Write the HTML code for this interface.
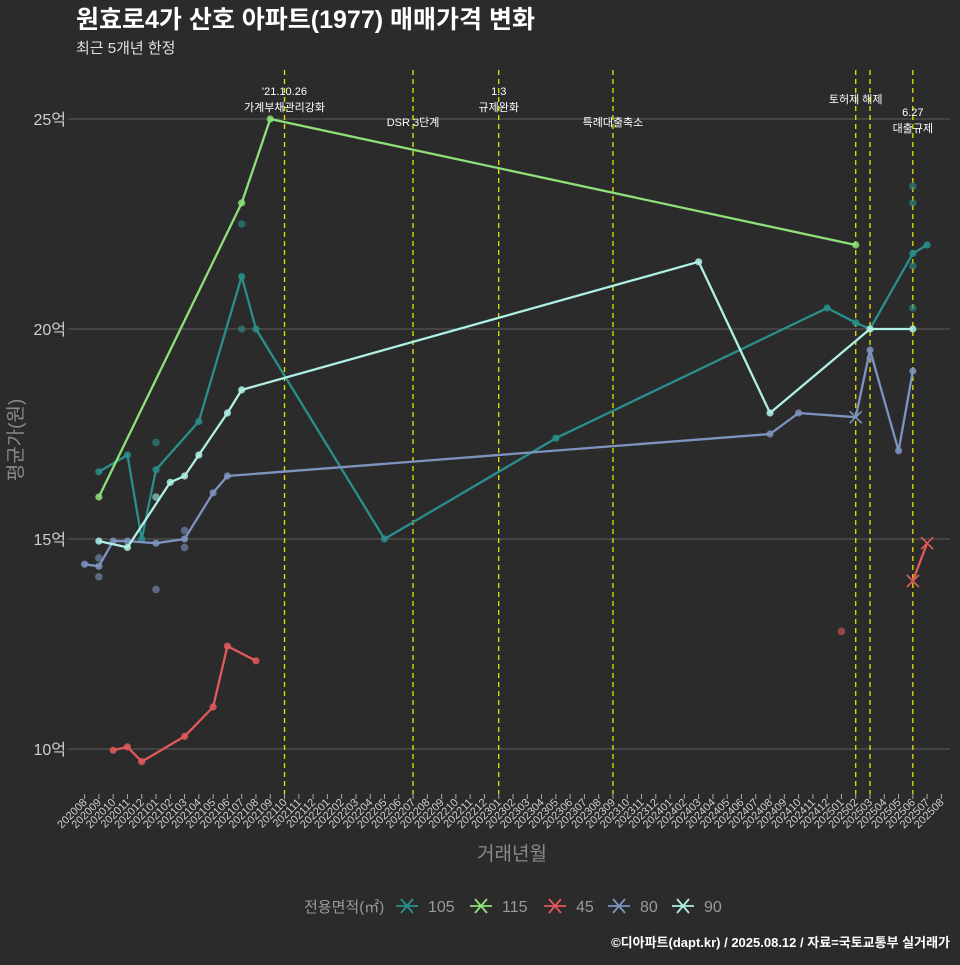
<!DOCTYPE html>
<html><head><meta charset="utf-8">
<style>
body{margin:0;background:#2b2b2b;}
svg text{font-family:"Liberation Sans","Noto Sans CJK KR",sans-serif;}
</style></head>
<body>
<svg id="chart" width="960" height="960" xmlns="http://www.w3.org/2000/svg">
<rect width="960" height="960" fill="#2b2b2b"/>
<text x="76" y="28" fill="#ffffff" font-size="25" font-weight="bold">원효로4가 산호 아파트(1977) 매매가격 변화</text>
<text x="76" y="53" fill="#e0e0e0" font-size="15">최근 5개년 한정</text>
<g id="grid"></g><g id="events"></g><g id="series"></g><g id="xaxis"></g>
<text transform="translate(22,440) rotate(-90)" text-anchor="middle" fill="#8a8a8a" font-size="19">평균가(원)</text>
<text x="512" y="860" text-anchor="middle" fill="#8a8a8a" font-size="19">거래년월</text>
<g id="legend"></g>
<text x="950" y="947" text-anchor="end" fill="#ffffff" font-size="13" font-weight="bold">©디아파트(dapt.kr) / 2025.08.12 / 자료=국토교통부 실거래가</text>
</svg>
<script>
const months=[];for(let y=2020;y<=2025;y++)for(let m=1;m<=12;m++){const v=y*100+m;if(v>=202008&&v<=202508)months.push(String(v));}
const yTicks=[10,15,20,25];
const seriesNames=["105","115","45","80","90"];
const seriesColors=["#2a8f8c","#8ee07a","#e05a5a","#7f93c0","#aef0e6"];
const s105Idx=[1,3,4,5,8,11,12,21,33,52,54,55,58,59];
const s105Val=[16.6,17.0,15.0,16.65,17.8,21.25,20.0,15.0,17.4,20.5,20.15,20.0,21.8,22.0];
const s115Idx=[1,11,13,54];
const s115Val=[16.0,23.0,25.0,22.0];
const s45Idx=[2,3,4,7,9,10,12,58,59];
const s45Val=[9.97,10.05,9.7,10.3,11.0,12.45,12.1,14.0,14.9];
const s80Idx=[0,1,2,3,5,7,9,10,48,50,54,55,57,58];
const s80Val=[14.4,14.35,14.95,14.95,14.9,15.0,16.1,16.5,17.5,18.0,17.9,19.5,17.1,19.0];
const s90Idx=[1,3,6,7,8,10,11,43,48,55,58];
const s90Val=[14.95,14.8,16.35,16.5,17.0,18.0,18.55,21.6,18.0,20.0,20.0];
const xMarkSeries=[2,2,3];const xMarkIdx=[58,59,54];const xMarkVal=[14.0,14.9,17.9];
const scatSeries=[0,0,0,0,0,0,0,3,3,3,3,3,3,2,4];
const scatIdx=[5,11,11,58,58,58,58,1,1,5,7,7,55,53,5];
const scatVal=[17.3,22.5,20.0,23.4,23.0,21.5,20.5,14.1,14.55,13.8,15.2,14.8,19.3,12.8,16.0];
const eventIdx=[14.0,23.0,29.0,37.0,54.0,55.0,58.0];
const eventLine1=["'21.10.26","","1.3","","토허제 해제","","6.27"];
const eventLine2=["가계부채관리강화","DSR 3단계","규제완화","특례대출축소","","","대출규제"];

const NS="http://www.w3.org/2000/svg";
const X=i=>84.6+14.28*i, Y=v=>119+(25-v)*42;
function mk(p,t,a){const e=document.createElementNS(NS,t);for(const k in a)e.setAttribute(k,a[k]);p.appendChild(e);return e;}
const G=id=>document.getElementById(id);
yTicks.forEach(v=>{
 const l=mk(G('grid'),'line',{x1:68,x2:950,y1:Y(v),y2:Y(v),stroke:'#5c5c5c','stroke-width':1});
 
 
 const t=mk(G('grid'),'text',{x:66,y:Y(v)+6,'text-anchor':'end',fill:'#cfcfcf','font-size':16});
 t.textContent=v+'억';
 
 
});
months.forEach((m,i)=>{
 const l=mk(G('xaxis'),'line',{x1:X(i),x2:X(i),y1:794,y2:799,stroke:'#aaaaaa'});
 
 
 const t=mk(G('xaxis'),'text',{transform:`translate(${X(i)+3},803) rotate(-45)`,'text-anchor':'end',fill:'#cfcfcf','font-size':11});
 t.textContent=m;
 
 
});
eventIdx.forEach((ix,k)=>{
 const l=mk(G('events'),'line',{x1:X(ix),x2:X(ix),y1:70,y2:794,stroke:'#e6e600','stroke-width':1.3,'stroke-dasharray':'5,4'});
 
 
 const two=eventLine1[k]&&eventLine2[k];
 const base=two?(k===6?116:95):(eventLine1[k]?103:126);
 if(eventLine1[k]){const t=mk(G('events'),'text',{x:X(ix),y:base,'text-anchor':'middle',fill:'#ffffff','font-size':11});t.textContent=eventLine1[k];
 
 }
 if(eventLine2[k]){const t=mk(G('events'),'text',{x:X(ix),y:two?base+16:base,'text-anchor':'middle',fill:'#ffffff','font-size':11});t.textContent=eventLine2[k];
 
 }
});
const S=G('series');
scatIdx.forEach((ix,k)=>{
 const c=mk(S,'circle',{cx:X(ix),cy:Y(scatVal[k]),r:3.8,fill:seriesColors[scatSeries[k]],opacity:0.6});
 
 
});
const all=[[s105Idx,s105Val],[s115Idx,s115Val],[s45Idx,s45Val],[s80Idx,s80Val],[s90Idx,s90Val]];
all.forEach(([idx,val],s)=>{
 const col=seriesColors[s];
 const segs=s===2?[[0,7],[7,9]]:[[0,idx.length]];
 segs.forEach(([a,b])=>{
  const p=mk(S,'polyline',{points:idx.slice(a,b).map((ix,k)=>X(ix)+','+Y(val[a+k])).join(' '),fill:'none',stroke:col,'stroke-width':2.3,'stroke-linejoin':'round'});
  
  
 });
 idx.forEach((ix,k)=>{
  let isX=false;xMarkIdx.forEach((xi,j)=>{if(xMarkSeries[j]===s&&xi===ix)isX=true;});
  if(isX)return;
  const c=mk(S,'circle',{cx:X(ix),cy:Y(val[k]),r:3.6,fill:col,opacity:0.85});
  
  
 });
});
xMarkIdx.forEach((ix,k)=>{
 const x=X(ix),y=Y(xMarkVal[k]),col=seriesColors[xMarkSeries[k]];
 const p=mk(S,'path',{d:`M${x-6},${y-6}L${x+6},${y+6}M${x-6},${y+6}L${x+6},${y-6}`,stroke:col,'stroke-width':1.6});
 
 
});
const L=G('legend');
const lt=mk(L,'text',{x:304,y:912,fill:'#9a9a9a','font-size':15});lt.textContent='전용면적(㎡)';


const lx=[396,470,544,608,672];
seriesNames.forEach((n,s)=>{
 const x=lx[s];
 const g=mk(L,'g',{});
 
 
 mk(g,'path',{d:`M${x},906L${x+22},906M${x+5},899L${x+17},913M${x+5},913L${x+17},899`,stroke:seriesColors[s],'stroke-width':1.8});
 const t=mk(g,'text',{x:x+32,y:912,fill:'#9a9a9a','font-size':16});t.textContent=n;
});
</script>
</body></html>
